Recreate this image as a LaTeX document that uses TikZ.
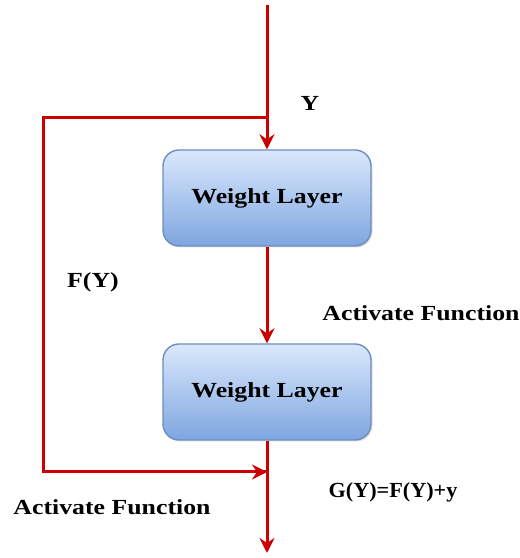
\documentclass[tikz,border=0pt]{standalone}
\usepackage{fontspec}
\setmainfont{Liberation Serif}[FakeStretch=1.2]
\usetikzlibrary{arrows.meta,shadows}
\definecolor{wire}{HTML}{CC0000}
\definecolor{boxtop}{HTML}{DAE8FC}
\definecolor{boxbot}{HTML}{7EA6E0}
\definecolor{boxline}{HTML}{6C8EBF}
\tikzset{
  layer/.style={draw=boxline, line width=1.4pt, rounded corners=16pt,
    top color=boxtop, bottom color=boxbot, minimum width=208pt, minimum height=96pt,
    inner sep=0pt, font=\bfseries\fontsize{21.5}{25}\selectfont,
    drop shadow={shadow xshift=1.5pt, shadow yshift=-1.5pt, opacity=0.25}},
  lbl/.style={font=\bfseries\fontsize{21.5}{25}\selectfont, inner sep=0pt},
  flow/.style={draw=wire, line width=3pt, -{Stealth[length=15pt,width=15pt,inset=5pt]}},
  wireline/.style={draw=wire, line width=3pt}
}
\begin{document}
\begin{tikzpicture}[x=1pt,y=1pt]
\useasboundingbox (0,0) rectangle (520,558);
\node[layer] (w1) at (267,360) {Weight Layer};
\node[layer] (w2) at (267,166) {Weight Layer};
\coordinate (top) at (267,553);
\coordinate (split) at (267,440);
\coordinate (lt) at (43,440);
\coordinate (lb) at (43,86);
\coordinate (merge) at (267,86);
\coordinate (out) at (267,5);
\draw[flow] (top) -- (w1.north);
\draw[flow] (w1.south) -- (w2.north);
\draw[flow] (w2.south) -- (out);
\draw[wireline, line join=miter] (split) -- (lt) -- (lb) -- (267,86);
\draw[flow] (lb) -- (merge);
\node[lbl] (ly) at (310,455) {Y};
\node[lbl] (lf) at (93,276) {F(Y)};
\node[lbl] (la1) at (421,245) {Activate Function};
\node[lbl] (la2) at (112,51) {Activate Function};
\node[lbl] (lg) at (393,66) {\scalebox{0.86}[1]{G(Y)=F(Y)+y}};
\end{tikzpicture}
\end{document}
